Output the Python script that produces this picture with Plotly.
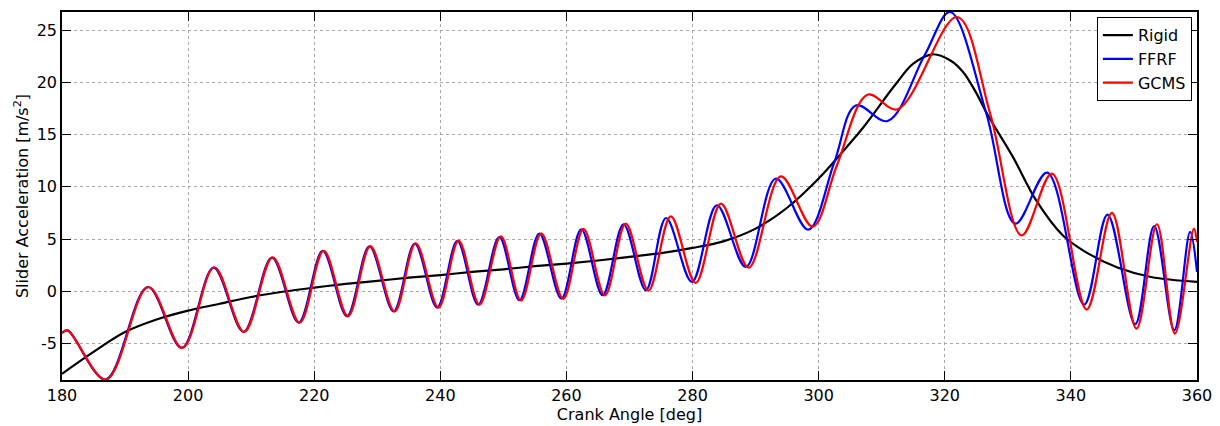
import plotly.graph_objects as go

# Rigid model (black)
rigid_x = [180, 185, 190, 195, 200, 205, 210, 215, 220, 225, 230, 235, 240, 245, 250,
           255, 260, 265, 270, 275, 280, 285, 290, 295, 300, 305, 307, 312.3, 315,
           318.1, 320.9, 322.9, 324.9, 326.8, 330.8, 334.5, 338.7, 342.1, 347.4, 352.7, 360]
rigid_y = [-7.9, -5.8, -3.9, -2.7, -1.85, -1.2, -0.55, -0.05, 0.35, 0.7, 1.0, 1.3, 1.55,
           1.85, 2.1, 2.4, 2.65, 2.95, 3.3, 3.65, 4.15, 4.8, 6.0, 8.0, 10.8, 14.2, 15.64,
           19.9, 21.8, 22.7, 22.1, 21.0, 19.1, 16.9, 12.87, 8.7, 5.36, 3.85, 2.27, 1.37, 0.9]

# FFRF (blue) — extrema
ffrf_x = [180, 180.9, 186.9, 193.6, 199.0, 204.05, 208.8, 213.3, 217.55, 221.35, 225.2,
          228.75, 232.6, 235.95, 239.5, 242.7, 246.0, 249.35, 252.55, 255.7, 259.2,
          262.35, 265.75, 269.05, 272.6, 275.8, 279.9, 283.85, 288.45, 293.2, 298.35,
          302.5, 305.9, 310.95, 316.8, 320.85, 326.6, 331.2, 336.25, 342.1, 345.8,
          350.2, 353.2, 356.4, 358.9, 360]
ffrf_y = [-4.0, -3.75, -8.46, 0.41, -5.43, 2.27, -3.9, 3.23, -3.0, 3.86, -2.39,
          4.31, -1.92, 4.57, -1.56, 4.82, -1.28, 5.2, -0.86, 5.52, -0.7,
          5.94, -0.38, 6.42, 0.1, 7.02, 0.9, 8.24, 2.33, 10.8, 5.9,
          12.4, 17.8, 16.31, 22.6, 26.75, 17.0, 6.48, 11.37, -1.28, 7.35,
          -3.16, 6.23, -3.74, 5.68, 1.85]

# GCMS (red)
gcms_x = [180, 180.9, 187.0, 193.7, 199.1, 204.15, 208.9, 213.4, 217.7, 221.5, 225.35,
          228.9, 232.75, 236.1, 239.7, 242.9, 246.2, 249.6, 252.8, 256.0, 259.5,
          262.7, 266.1, 269.4, 273.0, 276.55, 280.5, 284.5, 288.9, 294.0, 299.05,
          302.9, 307.8, 312.5, 321.95, 327.2, 332.2, 337.0, 342.5, 346.5,
          350.4, 353.65, 356.5, 359.5, 360]
gcms_y = [-4.0, -3.75, -8.46, 0.41, -5.43, 2.3, -3.9, 3.25, -3.0, 3.88, -2.4,
          4.33, -1.94, 4.6, -1.56, 4.85, -1.28, 5.25, -0.9, 5.55, -0.72,
          5.98, -0.4, 6.48, 0.05, 7.18, 0.8, 8.4, 2.27, 11.0, 6.2,
          12.07, 18.84, 17.43, 26.27, 17.0, 5.36, 11.27, -1.75, 7.5,
          -3.58, 6.42, -4.05, 6.0, 4.73]

x_ticks = [180, 200, 220, 240, 260, 280, 300, 320, 340, 360]
y_ticks = [-5, 0, 5, 10, 15, 20, 25]

FONT = "DejaVu Sans"

fig = go.Figure()
fig.add_trace(go.Scatter(x=rigid_x, y=rigid_y, name="Rigid", mode="lines",
                         line=dict(color="black", width=2.2, shape="spline", smoothing=1.0)))
fig.add_trace(go.Scatter(x=ffrf_x, y=ffrf_y, name="FFRF", mode="lines",
                         line=dict(color="blue", width=2.2, shape="spline", smoothing=1.0)))
fig.add_trace(go.Scatter(x=gcms_x, y=gcms_y, name="GCMS", mode="lines",
                         line=dict(color="red", width=2.2, shape="spline", smoothing=1.0)))

axis_common = dict(
    showline=True, linecolor="black", linewidth=1.5, mirror="ticks",
    ticks="inside", ticklen=9, tickcolor="black", tickwidth=1,
    showgrid=True, gridcolor="#a8a8a8", griddash="dot", gridwidth=1,
    zeroline=False, tickfont=dict(family=FONT, size=16, color="black"),
)

fig.update_layout(
    width=1220, height=426,
    margin=dict(l=62, r=23, t=12, b=46, autoexpand=False),
    paper_bgcolor="white", plot_bgcolor="white",
    font=dict(family=FONT, size=16, color="black"),
    xaxis=dict(range=[180, 360], tickvals=x_ticks, ticktext=[str(v) for v in x_ticks],
               title=dict(text="Crank Angle [deg]", font=dict(family=FONT, size=16), standoff=0),
               automargin=False, **axis_common),
    yaxis=dict(range=[-8.5, 26.75], tickvals=y_ticks, ticktext=[str(v) for v in y_ticks],
               title=dict(text="Slider Acceleration [m/s<sup>2</sup>]", font=dict(family=FONT, size=16), standoff=4),
               automargin=False, **axis_common),
    legend=dict(x=0.9955, y=0.986, xanchor="right", yanchor="top",
                bgcolor="white", bordercolor="black", borderwidth=1,
                font=dict(family=FONT, size=16), itemwidth=30,
                tracegroupgap=0),
    showlegend=True,
)

fig.write_html("out.html", config={"displayModeBar": False},
               post_script="document.body.style.margin='0';document.body.style.padding='0';document.body.style.overflow='hidden';")
